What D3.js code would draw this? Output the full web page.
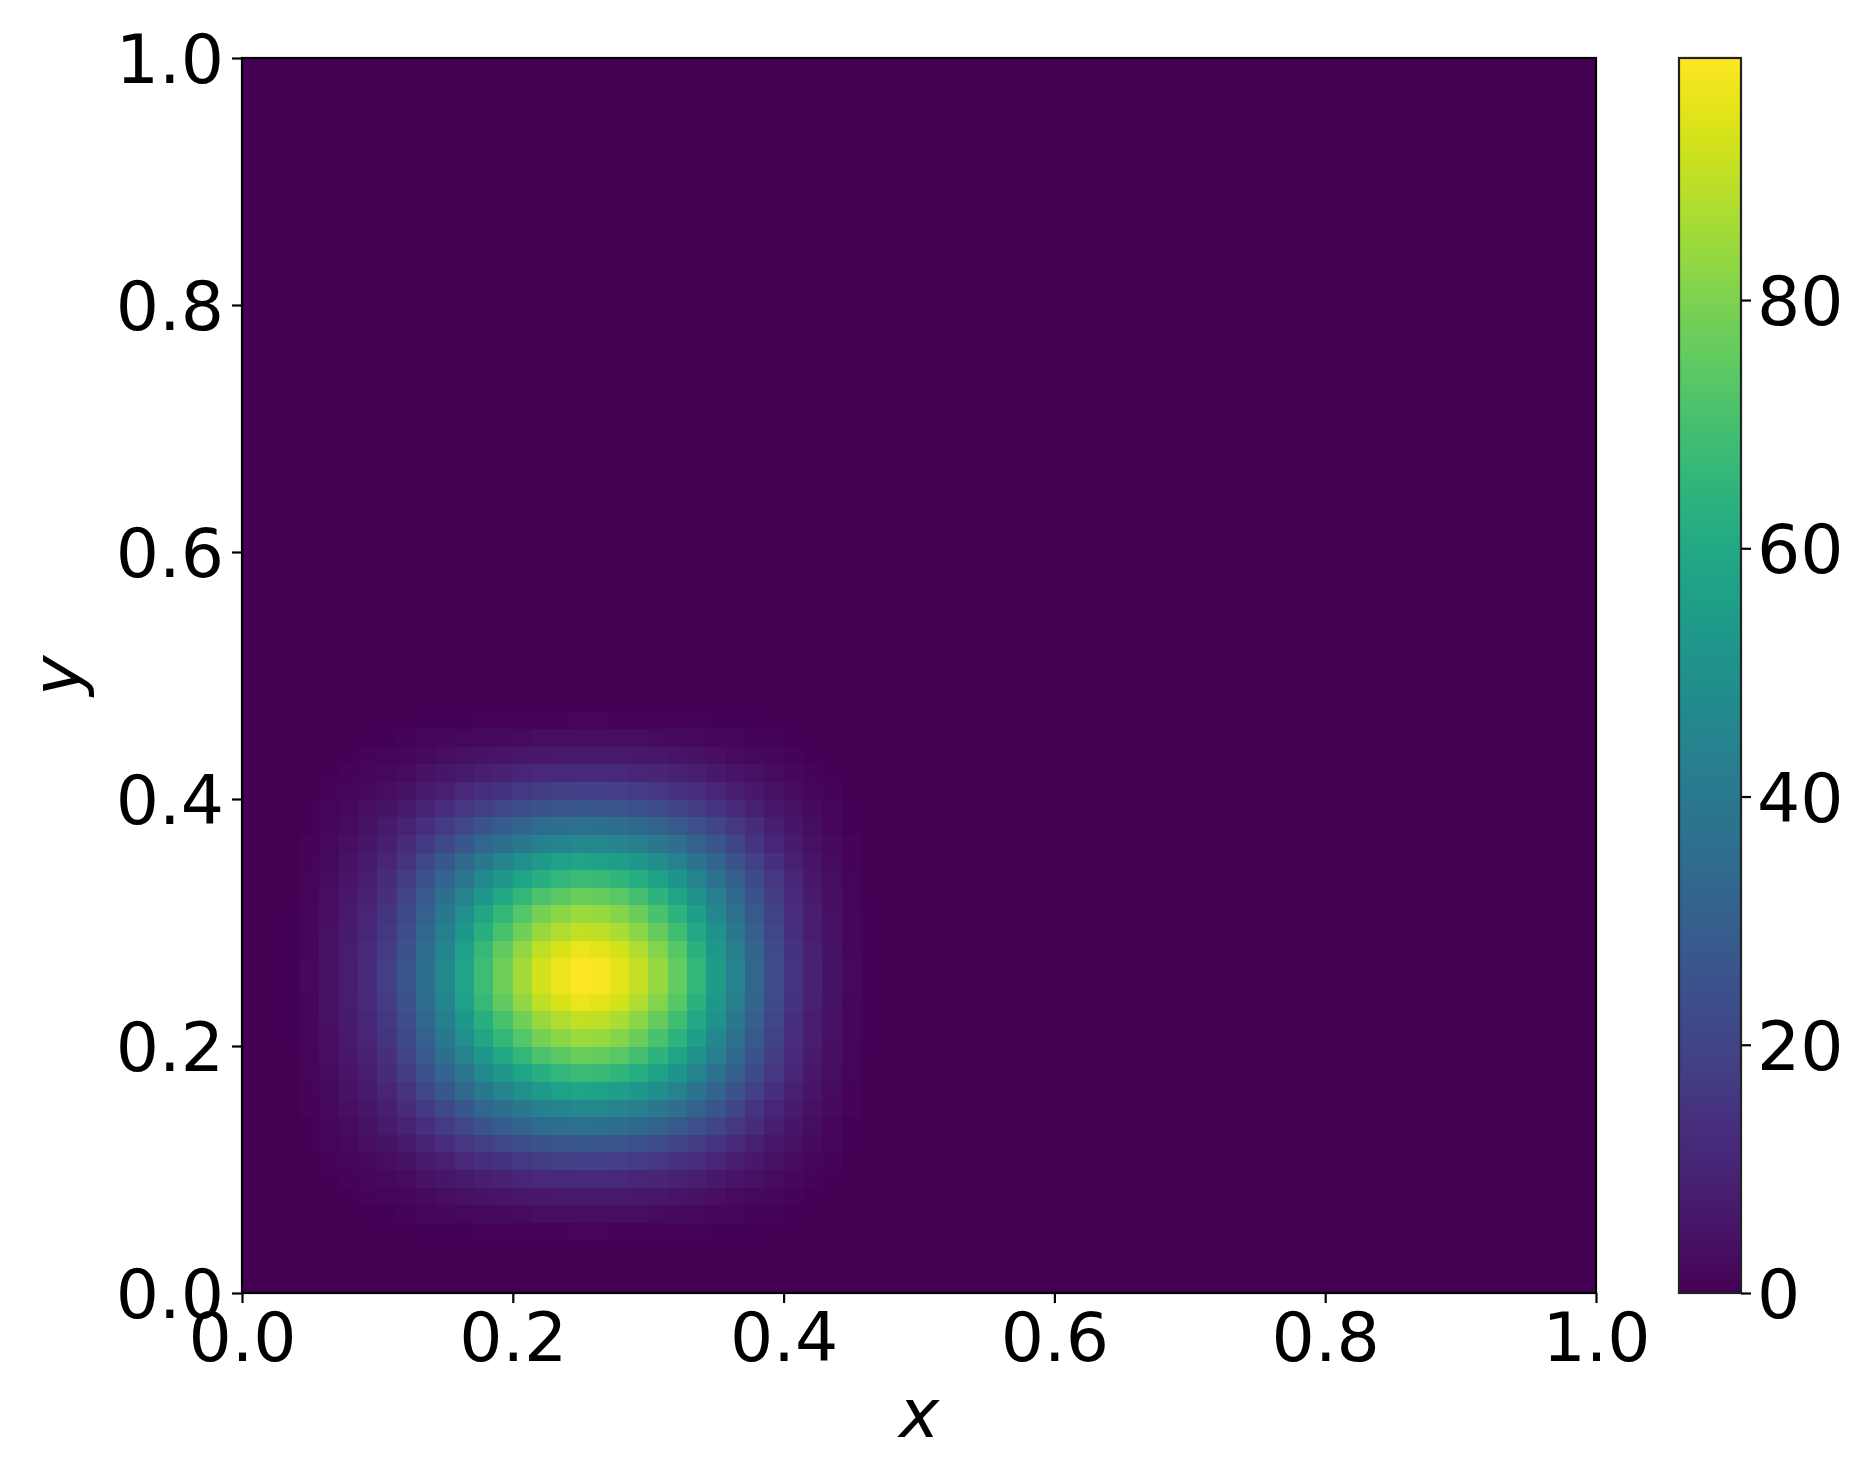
<!DOCTYPE html>
<html>
<head>
<meta charset="utf-8">
<script src="https://cdn.jsdelivr.net/npm/d3@7"></script>
<style>
  body { margin: 0; background: #fff; }
  text { font-family: "DejaVu Sans", sans-serif; }
</style>
</head>
<body>
<div id="chart"></div>
<script>
// values: the field looks like a product of two bumps,
// so it is kept as a column profile and a row profile (70 cells each)
const nCeldas = 70
const valorMax = 99.5
const perfilX = [0, 0, 0.005, 0.02, 0.045, 0.08, 0.12, 0.18, 0.26, 0.36,
    0.47, 0.58, 0.69, 0.78, 0.86, 0.93, 0.97, 1.0, 0.99, 0.96,
    0.91, 0.84, 0.76, 0.66, 0.55, 0.44, 0.33, 0.23, 0.15, 0.09,
    0.05, 0.02, 0.005, 0, 0, 0, 0, 0, 0, 0,
    0, 0, 0, 0, 0, 0, 0, 0, 0, 0,
    0, 0, 0, 0, 0, 0, 0, 0, 0, 0,
    0, 0, 0, 0, 0, 0, 0, 0, 0, 0]
// rows from the bottom (y = 0) upwards
const perfilY = [0, 0, 0.002, 0.012, 0.035, 0.07, 0.12, 0.19, 0.27, 0.37,
    0.47, 0.58, 0.68, 0.77, 0.85, 0.91, 0.97, 1.0, 1.0, 0.97,
    0.91, 0.85, 0.77, 0.68, 0.58, 0.47, 0.37, 0.27, 0.19, 0.12,
    0.07, 0.035, 0.012, 0.002, 0, 0, 0, 0, 0, 0,
    0, 0, 0, 0, 0, 0, 0, 0, 0, 0,
    0, 0, 0, 0, 0, 0, 0, 0, 0, 0,
    0, 0, 0, 0, 0, 0, 0, 0, 0, 0]
const ticksEjes = [0, 0.2, 0.4, 0.6, 0.8, 1.0]
const ticksBarra = [0, 20, 40, 60, 80]

const ancho = 1866
const alto = 1463
const margen = { izquierdo: 242, derecho: 1596, superior: 58, inferior: 1293 }
const barra = { izquierdo: 1679, derecho: 1741 }
const fuente = 68

const svg = d3.select("#chart").append("svg").attr("width", ancho).attr("height", alto)

var x = d3.scaleLinear().domain([0, 1]).range([margen.izquierdo, margen.derecho])
var y = d3.scaleLinear().domain([0, 1]).range([margen.inferior, margen.superior])
var color = d3.scaleSequential(d3.interpolateViridis).domain([0, valorMax])

// celdas
var celdas = []
perfilY.forEach((py, j) => {
    perfilX.forEach((px, i) => {
        celdas.push({ i: i, j: j, valor: valorMax * px * py })
    })
})

const grupoCeldas = svg.append("g").attr("id", "grupoCeldas")
grupoCeldas.selectAll("rect").data(celdas).enter().append("rect")
    .attr("x", d => x(d.i / nCeldas))
    .attr("y", d => y((d.j + 1) / nCeldas))
    .attr("width", d => x((d.i + 1) / nCeldas) - x(d.i / nCeldas) + 0.6)
    .attr("height", d => y(d.j / nCeldas) - y((d.j + 1) / nCeldas) + 0.6)
    .attr("fill", d => color(d.valor))
    .attr("shape-rendering", "crispEdges")

// marco
svg.append("rect")
    .attr("x", margen.izquierdo).attr("y", margen.superior)
    .attr("width", margen.derecho - margen.izquierdo).attr("height", margen.inferior - margen.superior)
    .attr("fill", "none").attr("stroke", "#000").attr("stroke-width", 2.2)

const ejeX = d3.axisBottom(x).tickValues(ticksEjes).tickFormat(d3.format(".1f")).tickSize(10).tickPadding(10)
const ejeY = d3.axisLeft(y).tickValues(ticksEjes).tickFormat(d3.format(".1f")).tickSize(10).tickPadding(8)

const grupoX = svg.append("g").attr("transform", `translate(0, ${margen.inferior})`).call(ejeX)
const grupoY = svg.append("g").attr("transform", `translate(${margen.izquierdo}, 0)`).call(ejeY)

;[grupoX, grupoY].forEach(g => {
    g.select(".domain").remove()
    g.selectAll(".tick line").attr("stroke", "#000").attr("stroke-width", 2.2)
    g.selectAll(".tick text").attr("font-size", fuente).attr("fill", "#000")
        .attr("font-family", "DejaVu Sans")
})
grupoY.selectAll(".tick text").attr("dy", "0.36em")

// etiquetas de los ejes
svg.append("text")
    .attr("x", (margen.izquierdo + margen.derecho) / 2).attr("y", 1437)
    .attr("text-anchor", "middle").attr("font-size", fuente).attr("font-style", "italic")
    .text("x")
svg.append("text")
    .attr("transform", `translate(80, ${(margen.superior + margen.inferior) / 2}) rotate(-90)`)
    .attr("text-anchor", "middle").attr("font-size", fuente).attr("font-style", "italic")
    .text("y")

// barra de color
const grad = svg.append("defs").append("linearGradient").attr("id", "viridis")
    .attr("x1", 0).attr("y1", 1).attr("x2", 0).attr("y2", 0)
d3.range(0, 1.0001, 0.02).forEach(t => {
    grad.append("stop").attr("offset", t).attr("stop-color", d3.interpolateViridis(t))
})
svg.append("rect")
    .attr("x", barra.izquierdo).attr("y", margen.superior)
    .attr("width", barra.derecho - barra.izquierdo).attr("height", margen.inferior - margen.superior)
    .attr("fill", "url(#viridis)").attr("stroke", "#222").attr("stroke-width", 2.2)

var yBarra = d3.scaleLinear().domain([0, valorMax]).range([margen.inferior, margen.superior])
const ejeBarra = d3.axisRight(yBarra).tickValues(ticksBarra).tickSize(10).tickPadding(6)
const grupoBarra = svg.append("g").attr("transform", `translate(${barra.derecho}, 0)`).call(ejeBarra)
grupoBarra.select(".domain").remove()
grupoBarra.selectAll(".tick line").attr("stroke", "#000").attr("stroke-width", 2.2)
grupoBarra.selectAll(".tick text").attr("font-size", fuente).attr("fill", "#000")
    .attr("font-family", "DejaVu Sans").attr("dy", "0.36em")
</script>
</body>
</html>
